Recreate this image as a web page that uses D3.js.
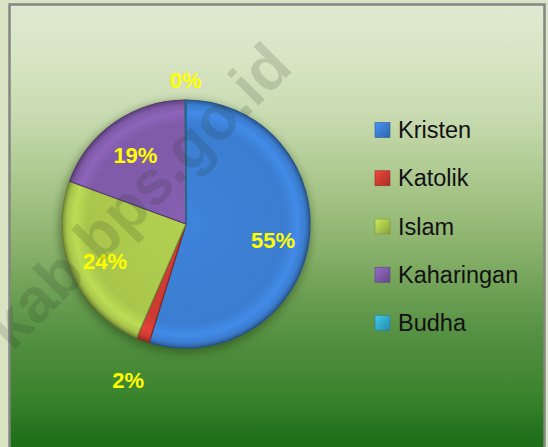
<!DOCTYPE html>
<html><head><meta charset="utf-8">
<script src="https://cdn.jsdelivr.net/npm/d3@7"></script>
<style>html,body{margin:0;padding:0;background:#dae4c5;overflow:hidden}</style>
</head><body>
<svg id="c" width="548" height="447"></svg>
<script>
const categories = ["Kristen", "Katolik", "Islam", "Kaharingan", "Budha"];
const values = [54.8, 1.7, 24.1, 19.3, 0.1];
const colors = ["#3b7dd0", "#cc3a32", "#a9c64c", "#7f5aa8", "#33aacb"];
const watermark = "kab bps.go.id";

const svg = d3.select("#c");
const defs = svg.append("defs");

// background gradient
const bg = defs.append("linearGradient").attr("id","bg").attr("x1",0).attr("y1",0).attr("x2",0).attr("y2",1);
[[0,"#dfe9d1"],[0.12,"#d8e5c4"],[0.25,"#c8dbb0"],[0.43,"#a3c283"],[0.55,"#88b06a"],[0.65,"#6a9e52"],[0.76,"#4f8d3e"],[0.86,"#3d852f"],[0.97,"#1e6e1a"],[1,"#1c6c18"]]
 .forEach(([o,c])=>bg.append("stop").attr("offset",o).attr("stop-color",c));

svg.append("rect").attr("x",9.5).attr("y",4.5).attr("width",535).attr("height",450)
  .attr("fill","url(#bg)").attr("stroke","#858585").attr("stroke-width",2.5);

const cx = 186, cy = 224, r = 124;
const g = svg.append("g").attr("transform",`translate(${cx},${cy})`);

// shadow
const blur = defs.append("filter").attr("id","sh").attr("x","-30%").attr("y","-30%").attr("width","160%").attr("height","160%");
blur.append("feGaussianBlur").attr("stdDeviation",4);
g.append("circle").attr("cx",-1).attr("cy",3).attr("r",r+2).attr("fill","#1a3010").attr("opacity",0.45).attr("filter","url(#sh)");

const total = d3.sum(values);
const pie = d3.pie().sort(null).value(d=>d)(values);
const arc = d3.arc().innerRadius(0).outerRadius(r);

colors.forEach((c,i)=>{
  const rg = defs.append("radialGradient").attr("id","sg"+i).attr("gradientUnits","userSpaceOnUse")
    .attr("cx",0).attr("cy",0).attr("r",r);
  const base = d3.color(c);
  [[0,base.brighter(0.15)],[0.8,base],[0.9,base.brighter(0.3)],[0.96,base],[1,base.darker(0.9)]]
    .forEach(([o,col])=>rg.append("stop").attr("offset",o).attr("stop-color",col));
  const lg = defs.append("linearGradient").attr("id","lg"+i).attr("x1",0).attr("y1",0).attr("x2",1).attr("y2",1);
  [[0,base.brighter(0.5)],[0.5,base],[1,base.darker(0.6)]].forEach(([o,col])=>lg.append("stop").attr("offset",o).attr("stop-color",col));
});

g.selectAll("path.s").data(pie).join("path").attr("class","s")
  .attr("d",arc).attr("fill",(d,i)=>`url(#sg${i})`)
  .attr("stroke",(d,i)=>d3.color(colors[i]).darker(1.2)).attr("stroke-width",1.2).attr("stroke-linejoin","round");

// labels
const inArc = d3.arc().innerRadius(88).outerRadius(88);
g.selectAll("text.l").data(pie).join("text").attr("class","l")
  .attr("transform",d=>{
    const pct = d.value/total*100;
    let p;
    if (pct < 3) {
      const a = (d.startAngle+d.endAngle)/2;
      const rr = r + 20 + 24*Math.max(0,-Math.cos(a));
      p = [Math.sin(a)*rr, -Math.cos(a)*rr];
    } else { p = inArc.centroid(d); p[1] += 3; }
    return `translate(${p[0]},${p[1]})`;
  })
  .attr("text-anchor","middle").attr("dominant-baseline","central")
  .attr("font-family","Liberation Sans, Arial, sans-serif").attr("font-weight","bold").attr("font-size",22)
  .attr("fill","#ffff00")
  .text(d=>Math.round(d.value/total*100)+"%");

// legend
const ly = d3.scalePoint().domain(categories).range([130,323]);
const leg = svg.append("g");
const items = leg.selectAll("g").data(categories).join("g").attr("transform",d=>`translate(375,${ly(d)})`);
items.append("rect").attr("x",0).attr("y",-7.5).attr("width",15).attr("height",15)
  .attr("fill",(d,i)=>`url(#lg${i})`).attr("stroke",(d,i)=>d3.color(colors[i]).darker(0.8)).attr("stroke-width",0.6);
items.append("text").attr("x",23).attr("y",0).attr("dominant-baseline","central")
  .attr("font-family","Liberation Sans, Arial, sans-serif").attr("font-size",23.5).attr("fill","#111")
  .text(d=>d);

// watermark
svg.append("text").attr("transform","translate(12,352) rotate(-45)")
  .attr("font-family","Liberation Sans, Arial, sans-serif").attr("font-weight","bold").attr("font-size",62)
  .attr("fill","rgba(40,50,40,0.16)").text(watermark);
</script>
</body></html>
